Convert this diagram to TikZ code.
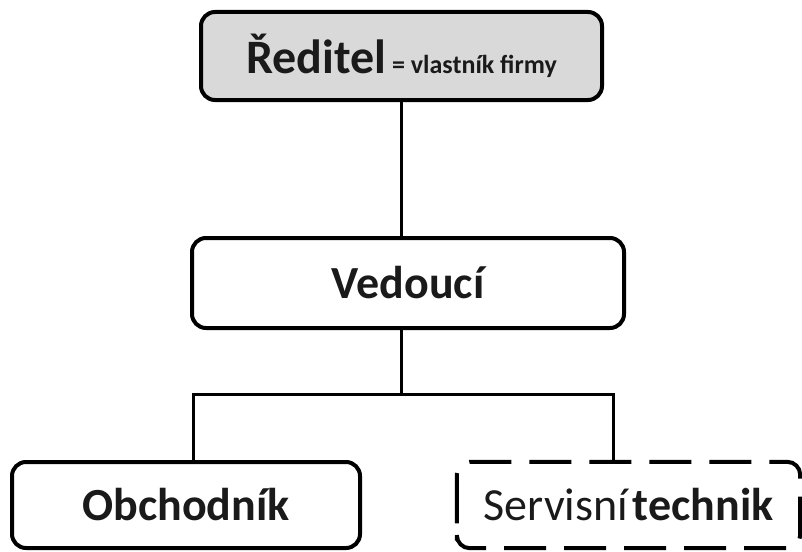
\documentclass[tikz,border=0pt]{standalone}
\usepackage{fontspec}
\setmainfont{Carlito}
\definecolor{boxgray}{HTML}{D9D9D9}
\definecolor{ink}{HTML}{1A1A1A}
\begin{document}
\begin{tikzpicture}[x=1pt,y=-1pt,
  orgbox/.style={draw=black, line width=4pt, rounded corners=14pt, inner sep=0pt, text=ink},
  bigtext/.style={font=\fontsize{46}{50}\selectfont\bfseries},
  link/.style={draw=black, line width=3pt}]
\useasboundingbox (0,0) rectangle (802,551);

\node[orgbox, fill=boxgray, minimum width=401pt, minimum height=88pt] (red) at (401.5,56)
  {{\fontsize{48}{50}\selectfont\bfseries Ředitel}{\fontsize{26}{28}\selectfont\bfseries{} = vlastník firmy}};

\node[orgbox, bigtext, minimum width=432pt, minimum height=90pt] (ved) at (408,283) {Vedoucí};

\node[orgbox, bigtext, minimum width=348pt, minimum height=86pt] (obc) at (186,505) {Obchodník};

\node[inner sep=0pt, text=ink, minimum width=343pt, minimum height=86pt,
  font=\fontsize{46}{50}\selectfont] (ser) at (628.5,505) {\spaceskip=3pt\relax Servisní \textbf{technik}};
\draw[line width=4pt, rounded corners=13pt, dash pattern=on 42pt off 18pt]
  ([yshift=-23pt]ser.west) -- (ser.north west) -- (ser.north east) -- (ser.south east) -- (ser.south west) -- cycle;

\coordinate (jm) at (401,394);
\coordinate (jl) at (193,394);
\coordinate (jr) at (613,394);

\draw[link] (jm |- red.south) -- (jm |- ved.north);
\draw[link] (jm |- ved.south) -- (jm);
\draw[link] (jl |- obc.north) -- (jl) -- (jr) -- (jr |- ser.north);
\end{tikzpicture}
\end{document}
